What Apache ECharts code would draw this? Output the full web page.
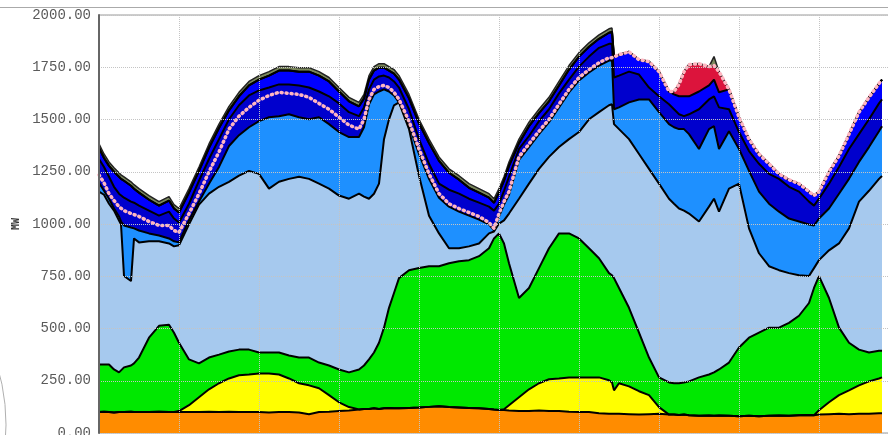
<!DOCTYPE html>
<html>
<head>
<meta charset="utf-8">
<title>MW</title>
<script src="https://cdn.jsdelivr.net/npm/echarts@6/dist/echarts.min.js"></script>
<style>
  html, body { margin: 0; padding: 0; background: #fff; overflow: hidden; }
  #main { width: 900px; height: 440px; }
</style>
</head>
<body>
<div id="main"></div>
<script>
// minutes from the left edge of the plot
var times = [
  0, 7.5, 15, 22.5, 30, 33, 37.5, 48, 52.5, 60,
  75, 90, 105, 112.5, 120, 135, 150, 165, 180, 195,
  210, 225, 240, 255, 270, 285, 300, 315, 330, 345,
  360, 375, 390, 397.5, 405, 412.5, 420, 427.5, 435, 442.5,
  450, 465, 480, 495, 510, 525, 540, 555, 570, 585,
  592.5, 600, 607.5, 615, 630, 645, 660, 675, 690, 705,
  720, 735, 750, 765, 769.5, 772.5, 780, 795, 810, 825,
  840, 855, 862.5, 870, 877.5, 885, 900, 915, 922.5, 930,
  945, 960, 975, 990, 1005, 1020, 1035, 1050, 1065, 1072.5,
  1080, 1095, 1110, 1125, 1140, 1155, 1170, 1174.5
];

// upper edge of each coloured band (MW), bottom band first
var orangeTop = [
  100, 102, 100, 98, 100, 100, 100, 102, 100, 100,
  100, 102, 100, 100, 100, 100, 100, 102, 100, 102,
  100, 100, 100, 98, 100, 100, 98, 90, 100, 102,
  105, 108, 112, 115, 115, 118, 115, 118, 120, 118,
  118, 120, 122, 125, 128, 124, 122, 120, 118, 115,
  112, 110, 110, 108, 105, 105, 108, 105, 105, 102,
  100, 100, 95, 92, 92, 90, 92, 90, 88, 90,
  92, 88, 88, 86, 88, 85, 82, 84, 82, 84,
  82, 80, 82, 80, 82, 84, 82, 85, 86, 85,
  88, 90, 92, 90, 92, 92, 94, 94
];
var yellowTop = [
  100, 102, 100, 98, 100, 100, 100, 102, 100, 100,
  100, 102, 100, 100, 105, 133, 171, 209, 238, 261,
  276, 280, 285, 285, 280, 261, 238, 228, 214, 181,
  147, 124, 113, 115, 115, 118, 115, 118, 120, 118,
  118, 120, 122, 125, 128, 124, 122, 120, 118, 115,
  112, 110, 114, 133, 171, 209, 238, 257, 261, 266,
  266, 266, 266, 252, 242, 204, 238, 223, 200, 181,
  124, 88, 88, 86, 88, 85, 82, 84, 82, 84,
  82, 80, 82, 80, 82, 84, 82, 85, 86, 85,
  109, 147, 181, 204, 228, 247, 261, 266
];
var greenTop = [
  328, 328, 328, 304, 290, 299, 314, 323, 333, 361,
  456, 513, 518, 480, 432, 352, 333, 361, 375, 390,
  399, 399, 385, 385, 385, 371, 361, 361, 337, 323,
  304, 290, 304, 323, 352, 385, 432, 504, 599, 670,
  741, 779, 789, 798, 798, 812, 822, 827, 846, 884,
  931, 955, 907, 812, 646, 694, 789, 884, 955, 955,
  931, 884, 836, 765, 755, 741, 694, 599, 480, 361,
  266, 242, 238, 238, 242, 247, 266, 280, 290, 304,
  337, 409, 456, 480, 504, 504, 527, 561, 622, 694,
  751, 646, 504, 432, 399, 385, 394, 394
];
var lightBlueTop = [
  1155, 1140, 1097, 1064, 1017, 998, 751, 727, 931, 912,
  917, 917, 907, 893, 898, 998, 1093, 1145, 1178, 1202,
  1231, 1254, 1240, 1169, 1202, 1216, 1226, 1216, 1193, 1169,
  1136, 1121, 1145, 1131, 1121, 1145, 1193, 1406, 1501, 1568,
  1582, 1454, 1231, 1040, 955, 884, 884, 893, 907, 955,
  964, 1002, 1017, 1050, 1121, 1193, 1264, 1321, 1368, 1406,
  1440, 1501, 1535, 1568, 1573, 1478, 1454, 1406, 1335, 1264,
  1193, 1121, 1097, 1074, 1064, 1050, 1012, 1083, 1121, 1059,
  1169, 1193, 979, 860, 798, 779, 765, 755, 751, 789,
  827, 874, 907, 979, 1107, 1159, 1216, 1230
];
var dodgerTop = [
  1197, 1159, 1121, 1074, 1036, 1012, 993, 983, 979, 969,
  955, 945, 931, 917, 912, 1017, 1107, 1193, 1273, 1373,
  1425, 1463, 1492, 1511, 1516, 1525, 1511, 1501, 1511, 1478,
  1440, 1416, 1416, 1463, 1573, 1620, 1634, 1644, 1634, 1615,
  1582, 1473, 1335, 1216, 1126, 1083, 1059, 1040, 1021, 998,
  969, 1036, 1093, 1140, 1307, 1368, 1430, 1487, 1558, 1630,
  1687, 1725, 1758, 1782, 1782, 1549, 1558, 1582, 1596, 1596,
  1535, 1478, 1463, 1454, 1454, 1430, 1359, 1454, 1468, 1359,
  1444, 1359, 1254, 1155, 1097, 1059, 1026, 1012, 998, 993,
  1026, 1074, 1145, 1216, 1297, 1368, 1444, 1468
];
var mediumBlueTop = [
  1311, 1273, 1226, 1178, 1145, 1136, 1126, 1107, 1102, 1088,
  1064, 1040, 1059, 1026, 1007, 1097, 1207, 1311, 1406, 1501,
  1568, 1615, 1639, 1653, 1668, 1668, 1663, 1653, 1634, 1611,
  1577, 1535, 1516, 1558, 1644, 1691, 1706, 1710, 1701, 1682,
  1653, 1549, 1406, 1288, 1193, 1164, 1145, 1121, 1102, 1083,
  1064, 1097, 1159, 1226, 1359, 1421, 1492, 1549, 1625, 1691,
  1753, 1801, 1843, 1862, 1862, 1701, 1710, 1729, 1715, 1653,
  1611, 1573, 1549, 1525, 1516, 1525, 1549, 1596, 1611, 1558,
  1549, 1440, 1349, 1288, 1240, 1216, 1178, 1155, 1107, 1088,
  1121, 1193, 1273, 1359, 1430, 1501, 1577, 1596
];
var blueTop = [
  1364, 1316, 1278, 1250, 1226, 1216, 1207, 1183, 1169, 1150,
  1116, 1088, 1112, 1074, 1055, 1150, 1254, 1364, 1459, 1544,
  1611, 1663, 1691, 1710, 1734, 1734, 1729, 1729, 1710, 1682,
  1634, 1587, 1563, 1601, 1691, 1734, 1748, 1748, 1734, 1720,
  1691, 1601, 1482, 1387, 1302, 1245, 1212, 1173, 1150, 1126,
  1102, 1150, 1207, 1278, 1387, 1468, 1530, 1587, 1663, 1739,
  1801, 1848, 1886, 1915, 1919, 1801, 1810, 1824, 1786, 1777,
  1729, 1634, 1620, 1611, 1611, 1611, 1634, 1663, 1691, 1630,
  1644, 1511, 1406, 1335, 1288, 1240, 1212, 1193, 1155, 1136,
  1155, 1250, 1326, 1430, 1535, 1606, 1672, 1691
];
var redTop = [
  1364, 1316, 1278, 1250, 1226, 1216, 1207, 1183, 1169, 1150,
  1116, 1088, 1112, 1074, 1055, 1150, 1254, 1364, 1459, 1544,
  1611, 1663, 1691, 1710, 1734, 1734, 1729, 1729, 1710, 1682,
  1634, 1587, 1563, 1601, 1691, 1734, 1748, 1748, 1734, 1720,
  1691, 1601, 1482, 1387, 1302, 1245, 1212, 1173, 1150, 1126,
  1102, 1150, 1207, 1278, 1387, 1468, 1530, 1587, 1663, 1739,
  1801, 1848, 1886, 1915, 1919, 1801, 1810, 1824, 1786, 1777,
  1729, 1634, 1634, 1668, 1729, 1763, 1767, 1753, 1758, 1729,
  1644, 1511, 1406, 1335, 1288, 1240, 1212, 1193, 1155, 1136,
  1155, 1250, 1326, 1430, 1535, 1606, 1672, 1691
];
var oliveTop = [
  1383, 1335, 1297, 1269, 1245, 1235, 1226, 1202, 1188, 1169,
  1136, 1107, 1131, 1093, 1074, 1169, 1273, 1383, 1478, 1563,
  1630, 1682, 1710, 1729, 1753, 1753, 1748, 1748, 1729, 1701,
  1653, 1606, 1582, 1620, 1710, 1753, 1767, 1767, 1753, 1739,
  1710, 1620, 1501, 1406, 1321, 1264, 1231, 1193, 1169, 1145,
  1121, 1169, 1226, 1297, 1406, 1487, 1549, 1606, 1682, 1758,
  1820, 1867, 1905, 1934, 1938, 1801, 1810, 1824, 1786, 1777,
  1729, 1634, 1634, 1668, 1729, 1763, 1767, 1753, 1801, 1729,
  1644, 1511, 1406, 1335, 1288, 1240, 1212, 1193, 1155, 1136,
  1155, 1250, 1326, 1430, 1535, 1606, 1672, 1691
];
// pink dotted line
var pinkLine = [
  1235, 1197, 1145, 1112, 1083, 1074, 1064, 1050, 1045, 1036,
  1012, 993, 993, 969, 960, 1050, 1145, 1250, 1345, 1454,
  1516, 1558, 1592, 1615, 1630, 1625, 1620, 1606, 1577, 1549,
  1511, 1473, 1454, 1501, 1596, 1644, 1658, 1663, 1653, 1630,
  1596, 1492, 1359, 1240, 1145, 1097, 1074, 1055, 1036, 1007,
  979, 1050, 1107, 1155, 1321, 1383, 1444, 1501, 1573, 1644,
  1701, 1739, 1772, 1796, 1796, 1801, 1810, 1824, 1786, 1777,
  1729, 1634, 1634, 1668, 1729, 1763, 1767, 1753, 1758, 1729,
  1644, 1511, 1406, 1335, 1288, 1240, 1212, 1193, 1155, 1136,
  1155, 1250, 1326, 1430, 1535, 1606, 1672, 1691
];

var yMax = 2000;
var yStep = 250;

function pairs(vals) {
  return times.map(function (t, i) { return [t, vals[i]]; });
}

function band(name, vals, fill, lineColor, lineWidth) {
  return {
    name: name,
    type: 'line',
    data: pairs(vals),
    symbol: 'none',
    animation: false,
    lineStyle: { color: lineColor || '#000', width: lineWidth || 2 },
    areaStyle: { color: fill, opacity: 1, origin: 'start' }
  };
}

// the chart is a bit larger than the window: its right and bottom edges are cut off
var chart = echarts.init(document.getElementById('main'));
var option = {
  animation: false,
  backgroundColor: '#fff',
  grid: { left: 99, top: 15, width: 800, height: 421, show: true, borderColor: '#9a9a9a', borderWidth: 1 },
  xAxis: {
    type: 'value', min: 0, max: 1200, interval: 120, z: 5,
    axisLine: { show: false }, axisTick: { show: false }, axisLabel: { show: false },
    splitLine: { show: true, lineStyle: { color: '#c4c4c4', type: 'dotted', width: 1 } }
  },
  yAxis: {
    type: 'value', min: 0, max: yMax, interval: yStep, z: 5,
    name: 'MW', nameLocation: 'middle', nameRotate: 90, nameGap: 77,
    nameTextStyle: { fontFamily: 'DejaVu Sans Mono', fontSize: 10, fontWeight: 'bold', color: '#333' },
    axisLine: { show: true, lineStyle: { color: '#666', width: 2 } },
    axisTick: { show: false },
    axisLabel: {
      margin: 8, fontFamily: 'Liberation Mono', fontSize: 14, color: '#5a5a5a',
      formatter: function (v) { return v.toFixed(2); }
    },
    splitLine: { show: true, lineStyle: { color: '#c4c4c4', type: 'dotted', width: 1 } }
  },
  graphic: [
    { type: 'line', shape: { x1: 0, y1: 7.5, x2: 900, y2: 7.5 }, style: { stroke: '#aaa', lineWidth: 1 } },
    // bits of a round widget peeking in at the lower left
    { type: 'arc', shape: { cx: -200, cy: 425, r: 206, startAngle: -0.3, endAngle: 0.1 }, style: { stroke: '#b0b0b0', lineWidth: 1, fill: null } },
    { type: 'arc', shape: { cx: -60, cy: 440, r: 66, startAngle: -1.2, endAngle: -1.0 }, style: { stroke: '#2f8a9c', lineWidth: 2.5, fill: null } }
  ],
  series: [
    band('olive', oliveTop, '#7b885c', '#222', 1.5),
    band('red', redTop, '#dc143c'),
    band('blue', blueTop, '#0000ff'),
    band('mediumBlue', mediumBlueTop, '#0000cd'),
    band('dodger', dodgerTop, '#1e90ff'),
    band('lightBlue', lightBlueTop, '#a6c9ee'),
    band('green', greenTop, '#00e800'),
    band('yellow', yellowTop, '#ffff00'),
    band('orange', orangeTop, '#ff8c00'),
    {
      name: 'pink', type: 'line', data: pairs(pinkLine), symbol: 'none', z: 3,
      lineStyle: { color: '#ffb6c1', width: 3.5, type: [1, 4], cap: 'round' }
    }
  ]
};
chart.setOption(option);
</script>
</body>
</html>
